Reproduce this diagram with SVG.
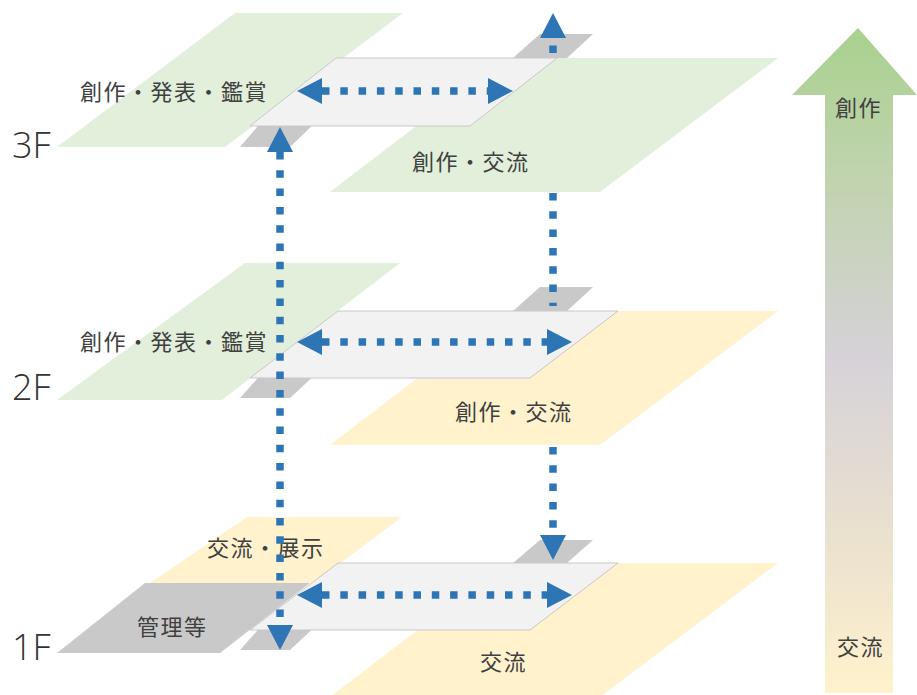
<svg xmlns="http://www.w3.org/2000/svg" width="917" height="695" viewBox="0 0 917 695">
  <style>
    .green { fill: #e2efda; }
    .yellow { fill: #fff2cc; }
    .grey { fill: #c9c9c9; }
    .plate { fill: #f2f2f2; stroke: #c8c8c8; stroke-width: 1; }
    .lbl { font-family: "Noto Sans CJK JP", "Noto Sans", sans-serif; font-size: 22px; letter-spacing: 1.5px; fill: #404040; }
    .floor { font-family: "Open Sans", "Liberation Sans", sans-serif; font-weight: 300; font-size: 36px; fill: #333333; }
    .dash { fill: none; stroke: #2e75b6; stroke-width: 7.5; stroke-dasharray: 7.5 10.8; }
  </style>
  <defs>
    <marker id="head" markerUnits="userSpaceOnUse" markerWidth="25" markerHeight="26" viewBox="0 0 25 26" refX="0" refY="13" orient="auto-start-reverse">
      <path d="M0,0 L25,13 L0,26 Z" fill="#2e75b6"/>
    </marker>
    <linearGradient id="gradArrow" gradientUnits="userSpaceOnUse" x1="0" y1="28" x2="0" y2="693">
      <stop offset="0" stop-color="#a9d18e"/>
      <stop offset="0.25" stop-color="#c3d3b2"/>
      <stop offset="0.5" stop-color="#d6d2d8"/>
      <stop offset="0.75" stop-color="#e9e0cf"/>
      <stop offset="1" stop-color="#fff2cc"/>
    </linearGradient>
  </defs>

  <!-- 3F -->
  <g id="floor3-left">
    <polygon class="green" points="235,13 403,13 225,147 57,147"/>
    <text class="lbl" x="80" y="100">創作・発表・鑑賞</text>
  </g>
  <g id="floor3-right">
    <polygon class="green" points="505,58 778,58 600,192 330,192"/>
    <text class="lbl" x="412" y="170">創作・交流</text>
  </g>
  <g id="floor3-stair-left">
    <polygon class="grey" points="263,120 318,120 290,147 240,147"/>
  </g>
  <g id="floor3-stair-right">
    <polygon class="grey" points="540,34 593,34 567,58 513,58"/>
  </g>
  <g id="floor3-hall">
    <polygon class="plate" points="336,58 557,58 470,126 250,126"/>
  </g>
  <text class="floor" x="12" y="158">3F</text>

  <!-- 2F -->
  <g id="floor2-left">
    <polygon class="green" points="245,263 400,263 222,400 57,400"/>
    <text class="lbl" x="80" y="350">創作・発表・鑑賞</text>
  </g>
  <g id="floor2-right">
    <polygon class="yellow" points="505,311 778,311 600,445 330,445"/>
    <text class="lbl" x="455" y="420">創作・交流</text>
  </g>
  <g id="floor2-stair-left">
    <polygon class="grey" points="263,372 318,372 290,398 240,398"/>
  </g>
  <g id="floor2-stair-right">
    <polygon class="grey" points="540,287 593,287 567,311 513,311"/>
  </g>
  <g id="floor2-hall">
    <polygon class="plate" points="338,311 618,311 530,378 250,378"/>
  </g>
  <text class="floor" x="12" y="400">2F</text>

  <!-- 1F -->
  <g id="floor1-exhibit">
    <polygon class="yellow" points="247,517 402,517 314,583 150,583"/>
    <text class="lbl" x="207" y="556">交流・展示</text>
  </g>
  <g id="floor1-admin">
    <polygon class="grey" points="145,583 310,583 220,653 57,653"/>
    <text class="lbl" x="137" y="635">管理等</text>
  </g>
  <g id="floor1-right">
    <polygon class="yellow" points="505,563 778,563 600,697 330,697"/>
    <text class="lbl" x="480" y="670">交流</text>
  </g>
  <g id="floor1-stair-left">
    <polygon class="grey" points="263,624 318,624 290,650 240,650"/>
  </g>
  <g id="floor1-stair-right">
    <polygon class="grey" points="540,540 593,540 567,563 513,563"/>
  </g>
  <g id="floor1-hall">
    <polygon class="plate" points="338,563 618,563 530,630 250,630"/>
  </g>
  <text class="floor" x="12" y="660">1F</text>

  <!-- big gradient arrow -->
  <g id="scale-arrow">
    <polygon points="858,28 917,95 893,95 893,693 825,693 825,95 792,95" fill="url(#gradArrow)"/>
    <text class="lbl" x="835" y="116">創作</text>
    <text class="lbl" x="837" y="655">交流</text>
  </g>

  <!-- connectors -->
  <g id="connectors">
    <line class="dash" x1="322" y1="91" x2="488" y2="91" marker-start="url(#head)" marker-end="url(#head)"/>
    <line class="dash" x1="322" y1="342" x2="547" y2="342" marker-start="url(#head)" marker-end="url(#head)"/>
    <line class="dash" x1="322" y1="595" x2="547" y2="595" marker-start="url(#head)" marker-end="url(#head)"/>
    <line class="dash" x1="280" y1="152" x2="280" y2="625" marker-start="url(#head)" marker-end="url(#head)"/>
    <line class="dash" x1="553" y1="55" x2="553" y2="38" style="stroke-dashoffset:-2" marker-end="url(#head)"/>
    <line class="dash" x1="553" y1="193" x2="553" y2="306"/>
    <line class="dash" x1="553" y1="447" x2="553" y2="535" marker-end="url(#head)"/>
  </g>
</svg>
